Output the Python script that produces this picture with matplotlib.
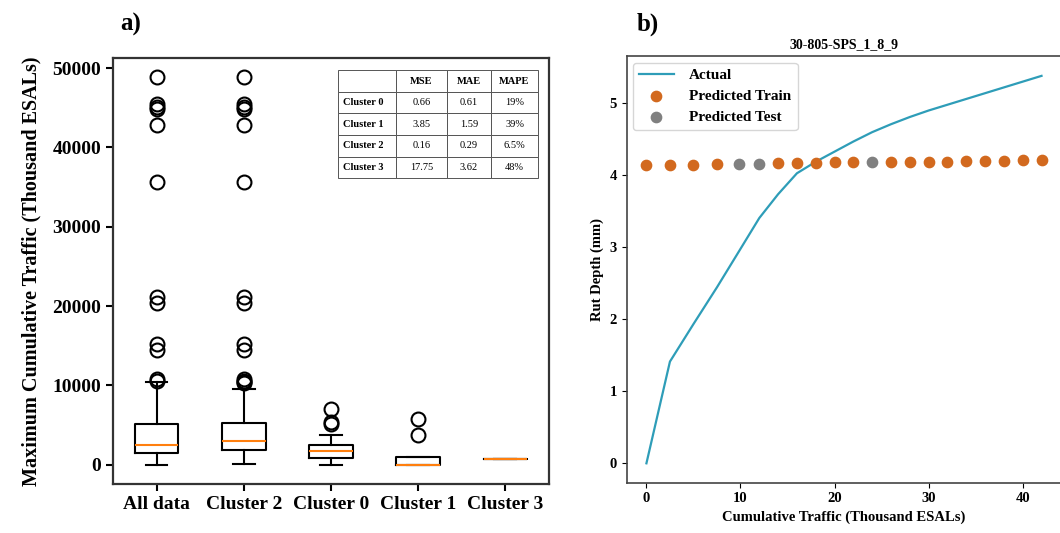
import numpy as np
import matplotlib.pyplot as plt

plt.rcParams['font.family'] = ['Liberation Serif', 'DejaVu Serif']
plt.rcParams['font.weight'] = 'bold'

# Datos del panel a) (estadísticas de las cajas)
grupos = ["All data", "Cluster 2", "Cluster 0", "Cluster 1", "Cluster 3"]
q1 = [1520, 1900, 840, 0, 760]
mediana = [2530, 2990, 1720, 0, 760]
q3 = [5100, 5310, 2440, 960, 760]
bigote_inf = [0, 120, 0, 0, 760]
bigote_sup = [10370, 9560, 3750, 960, 760]
atipicos_all = [48830, 45450, 45100, 44900, 42830, 35620, 21200, 20360,
                15180, 14460, 10750, 10580]
atipicos_c2 = [48830, 45450, 45100, 44900, 42830, 35620, 21200, 20360,
               15180, 14460, 10750, 10580, 10400, 10250]
atipicos_c0 = [6960, 5390, 5060]
atipicos_c1 = [5730, 3790]
atipicos_c3 = []
atipicos = [atipicos_all, atipicos_c2, atipicos_c0, atipicos_c1, atipicos_c3]

# Tabla de errores
tabla_cols = ["", "MSE", "MAE", "MAPE"]
tabla_filas = ["Cluster 0", "Cluster 1", "Cluster 2", "Cluster 3"]
mse = ["0.66", "3.85", "0.16", "17.75"]
mae = ["0.61", "1.59", "0.29", "3.62"]
mape = ["19%", "39%", "6.5%", "48%"]

# Datos del panel b)
trafico = [0, 2.5, 5, 7.5, 9.8, 12, 14, 16, 18, 20, 22, 24, 26, 28, 30,
           32, 34, 36, 38, 40, 42]
rut_real = [0, 1.41, 1.93, 2.44, 2.93, 3.40, 3.73, 4.02, 4.18, 4.32, 4.46,
            4.59, 4.70, 4.80, 4.89, 4.97, 5.05, 5.13, 5.21, 5.29, 5.37]
rut_pred = [4.14, 4.14, 4.14, 4.15, 4.15, 4.15, 4.16, 4.16, 4.16, 4.17, 4.17,
            4.17, 4.18, 4.18, 4.18, 4.18, 4.19, 4.19, 4.19, 4.20, 4.20]
es_test = [False, False, False, False, True, True, False, False, False, False,
           False, True, False, False, False, False, False, False, False, False,
           False]

fig = plt.figure(figsize=(10.6, 5.33), dpi=100)

# ---------- panel a) ----------
ax1 = fig.add_axes([0.1066, 0.092, 0.4113, 0.799])
stats = []
for i in range(len(grupos)):
    stats.append(dict(label=grupos[i], med=mediana[i], q1=q1[i], q3=q3[i],
                      whislo=bigote_inf[i], whishi=bigote_sup[i],
                      fliers=atipicos[i]))
ax1.bxp(stats, widths=0.5,
        boxprops=dict(linewidth=1.5, color='black'),
        whiskerprops=dict(linewidth=1.5, color='black'),
        capprops=dict(linewidth=1.5, color='black'),
        medianprops=dict(linewidth=1.5, color='#ff7f0e'),
        flierprops=dict(marker='o', markersize=10, markerfacecolor='none',
                        markeredgecolor='black', markeredgewidth=1.5))
ax1.set_yticks([0, 10000, 20000, 30000, 40000, 50000])
ax1.tick_params(labelsize=14, width=1.5, length=5)
for lab in ax1.get_xticklabels() + ax1.get_yticklabels():
    lab.set_fontweight('bold')
ax1.set_ylabel("Maximum Cumulative Traffic (Thousand ESALs)", fontsize=14.5,
               fontweight='bold', labelpad=8)
for s in ax1.spines.values():
    s.set_linewidth(1.6)
    s.set_color('#333333')

celdas = [[tabla_filas[i], mse[i], mae[i], mape[i]] for i in range(4)]
tabla = ax1.table(cellText=celdas, colLabels=tabla_cols,
                  bbox=[0.516, 0.718, 0.459, 0.2535], cellLoc='center',
                  colWidths=[58, 51, 44, 47])
tabla.auto_set_font_size(False)
for (r, c), cell in tabla.get_celld().items():
    cell.set_edgecolor('#555555')
    cell.set_linewidth(0.7)
    negrita = (r == 0) or (c == 0)
    cell.get_text().set_fontsize(7.5)
    cell.get_text().set_fontweight('bold' if negrita else 'normal')
    if c == 0 and r > 0:
        cell.get_text().set_ha('left')
        cell._loc = 'left'
        cell.PAD = 0.08

# ---------- panel b) ----------
ax2 = fig.add_axes([0.5912, 0.0944, 0.41, 0.7996])
ax2.plot(trafico, rut_real, color='#2e9db8', linewidth=1.6, label='Actual')
x_tr = [x for x, t in zip(trafico, es_test) if not t]
y_tr = [y for y, t in zip(rut_pred, es_test) if not t]
x_te = [x for x, t in zip(trafico, es_test) if t]
y_te = [y for y, t in zip(rut_pred, es_test) if t]
ax2.scatter(x_tr, y_tr, s=55, color='#d2691e', label='Predicted Train', zorder=3)
ax2.scatter(x_te, y_te, s=55, color='#808080', label='Predicted Test', zorder=3)
ax2.set_title("30-805-SPS_1_8_9", fontsize=10, fontweight='bold')
ax2.set_xlabel("Cumulative Traffic (Thousand ESALs)", fontsize=10.5,
               fontweight='bold')
ax2.set_ylabel("Rut Depth (mm)", fontsize=10.5, fontweight='bold')
ax2.set_xticks([0, 10, 20, 30, 40])
ax2.set_yticks([0, 1, 2, 3, 4, 5])
ax2.tick_params(labelsize=10.5)
for lab in ax2.get_xticklabels() + ax2.get_yticklabels():
    lab.set_fontweight('bold')
for s in ax2.spines.values():
    s.set_linewidth(1.2)
    s.set_color('#444444')
leg = ax2.legend(loc='upper left', prop={'weight': 'bold', 'size': 11},
                 handlelength=2.3, labelspacing=0.45, handletextpad=1.0,
                 borderaxespad=0.4)

fig.text(0.123, 0.955, "a)", fontsize=18, fontweight='bold', ha='center', va='center')
fig.text(0.611, 0.955, "b)", fontsize=18, fontweight='bold', ha='center', va='center')

plt.savefig("out.png", dpi=100)
